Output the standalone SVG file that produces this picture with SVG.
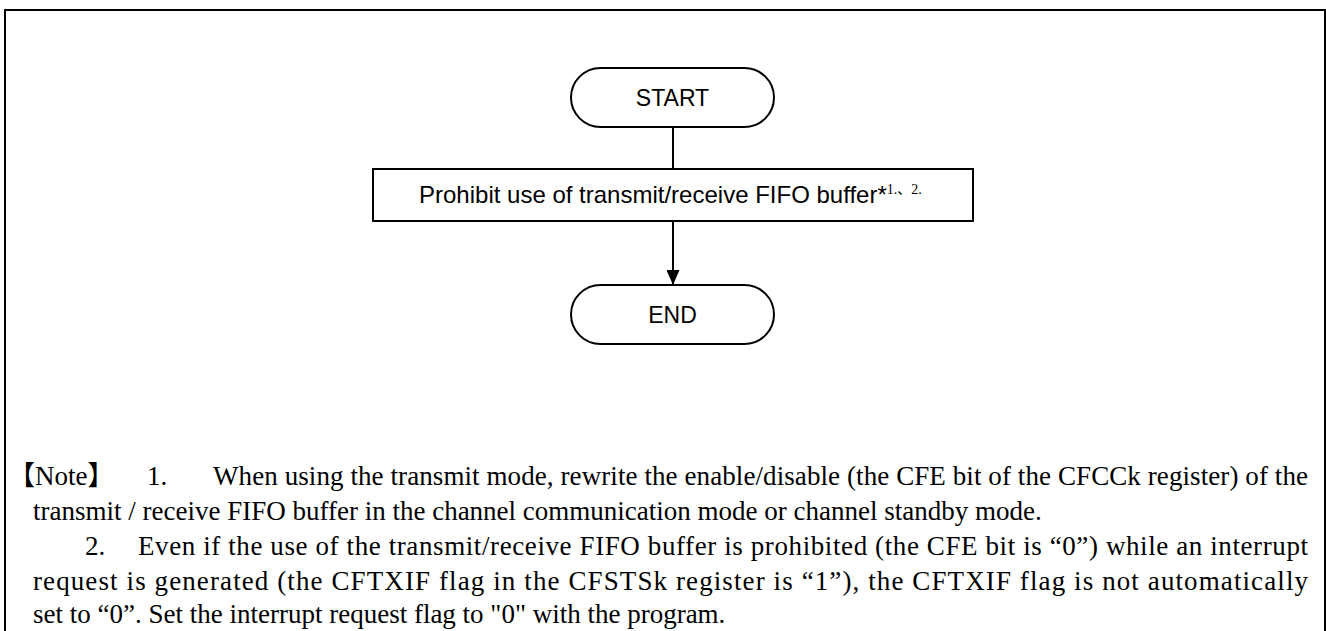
<svg xmlns="http://www.w3.org/2000/svg" width="1326" height="631" viewBox="0 0 1326 631">
<defs>
<style>
.frame{fill:none;stroke:#000;stroke-width:2}
.shape{fill:#fff;stroke:#000;stroke-width:2}
.conn{fill:none;stroke:#000;stroke-width:2}
.lbl{font-family:"Liberation Sans",Arial,sans-serif;font-size:23px;fill:#000}
.box{font-size:24px}
.note{font-family:"Liberation Serif","Times New Roman","Noto Sans CJK SC",serif;font-size:27px;fill:#000}
.sup{font-family:"Liberation Serif","Times New Roman","Noto Sans CJK SC",serif;font-size:14px}
</style>
<marker id="arr" markerWidth="16" markerHeight="13" refX="15" refY="6.5" orient="auto" markerUnits="userSpaceOnUse">
<path d="M0,0 L15,6.5 L0,13 Z" fill="#000"/>
</marker>
</defs>
<rect width="1326" height="631" fill="#fff"/>
<path class="frame" d="M5,631 V10 H1325 V631"/>
<g id="connectors">
<line class="conn" x1="673" y1="127" x2="673" y2="169"/>
<line class="conn" x1="673" y1="221" x2="673" y2="285" marker-end="url(#arr)"/>
</g>
<g id="start">
<rect class="shape" x="571" y="68" width="203" height="59" rx="29.5" ry="29.5"/>
<text class="lbl" x="672.5" y="105.5" text-anchor="middle">START</text>
</g>
<g id="prohibit">
<rect class="shape" x="373" y="169" width="600" height="52"/>
<text class="lbl box" x="419" y="203">Prohibit use of transmit/receive FIFO buffer*<tspan class="sup" dy="-9">1.、2.</tspan></text>
</g>
<g id="end">
<rect class="shape" x="571" y="285" width="203" height="59" rx="29.5" ry="29.5"/>
<text class="lbl" x="672.5" y="322.5" text-anchor="middle">END</text>
</g>
<g id="note">
<text class="note" x="8" y="485">【Note】</text>
<text class="note" x="147" y="485">1.</text>
<text class="note" x="213" y="485" textLength="1095" lengthAdjust="spacing">When using the transmit mode, rewrite the enable/disable (the CFE bit of the CFCCk register) of the</text>
<text class="note" x="33" y="520">transmit / receive FIFO buffer in the channel communication mode or channel standby mode.</text>
<text class="note" x="85" y="555">2.</text>
<text class="note" x="138" y="555" textLength="1170" lengthAdjust="spacing">Even if the use of the transmit/receive FIFO buffer is prohibited (the CFE bit is “0”) while an interrupt</text>
<text class="note" x="33" y="590" textLength="1275" lengthAdjust="spacing">request is generated (the CFTXIF flag in the CFSTSk register is “1”), the CFTXIF flag is not automatically</text>
<text class="note" x="33" y="623">set to “0”. Set the interrupt request flag to "0" with the program.</text>
</g>
</svg>
